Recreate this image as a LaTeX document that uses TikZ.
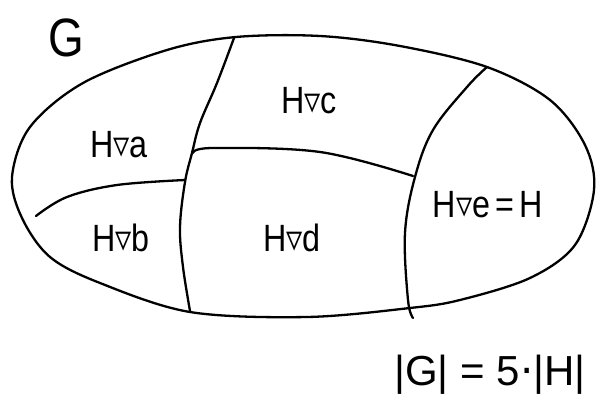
\documentclass[tikz,border=0pt]{standalone}
\usepackage{fontspec}
\setmainfont{Liberation Sans}
\newfontfamily\symfont{DejaVu Sans}
\begin{document}
\begin{tikzpicture}[x=1pt,y=-1pt,
  stroke/.style={line width=2.3pt,line cap=round,line join=round,black},
  lbl/.style={font=\fontsize{38}{40}\selectfont,inner sep=0pt,xscale=0.85},
  big/.style={font=\fontsize{42}{44}\selectfont,inner sep=0pt}]
\useasboundingbox (0,0) rectangle (597,396);
% outer set G
\draw[stroke] plot[smooth cycle,tension=0.55] coordinates {(12,177) (30,127) (83,83) (167,50) (236,37) (320,36) (400,46) (487,67) (550,100) (585,145) (594,190) (575,245) (530,278) (460,300) (410,308) (307,317) (190,312) (100,283) (50,257) (22,218)};
% boundaries
\draw[stroke] plot[smooth,tension=0.6] coordinates {(234,38) (217,83) (200,123) (192,153) (185,182) (180,227) (183,267) (190,311)};
\draw[stroke] plot[smooth,tension=0.6] coordinates {(36,216) (67,197) (117,185) (185,180)};
\draw[stroke] plot[smooth,tension=0.6] coordinates {(193,153) (213,148) (320,152) (413,176)};
\draw[stroke] plot[smooth,tension=0.6] coordinates {(487,67) (467,87) (433,130) (415,177) (405,233) (408,300) (413,318)};
% labels
\node[inner sep=0pt,font=\fontsize{54}{56}\selectfont,xscale=0.85] (g) at (66,38) {G};
\node[lbl] (ha) at (119,145) {H{\symfont ▿}a};
\node[lbl] (hb) at (121,238) {H{\symfont ▿}b};
\node[lbl] (hc) at (309,101) {H{\symfont ▿}c};
\node[lbl] (hd) at (292,238) {H{\symfont ▿}d};
\node[lbl] (he) at (488,205) {H{\symfont ▿}e\,=\,H};
\node[big] (eq) at (490,375) {|G| = 5{\symfont ·}|H|};
\end{tikzpicture}
\end{document}
